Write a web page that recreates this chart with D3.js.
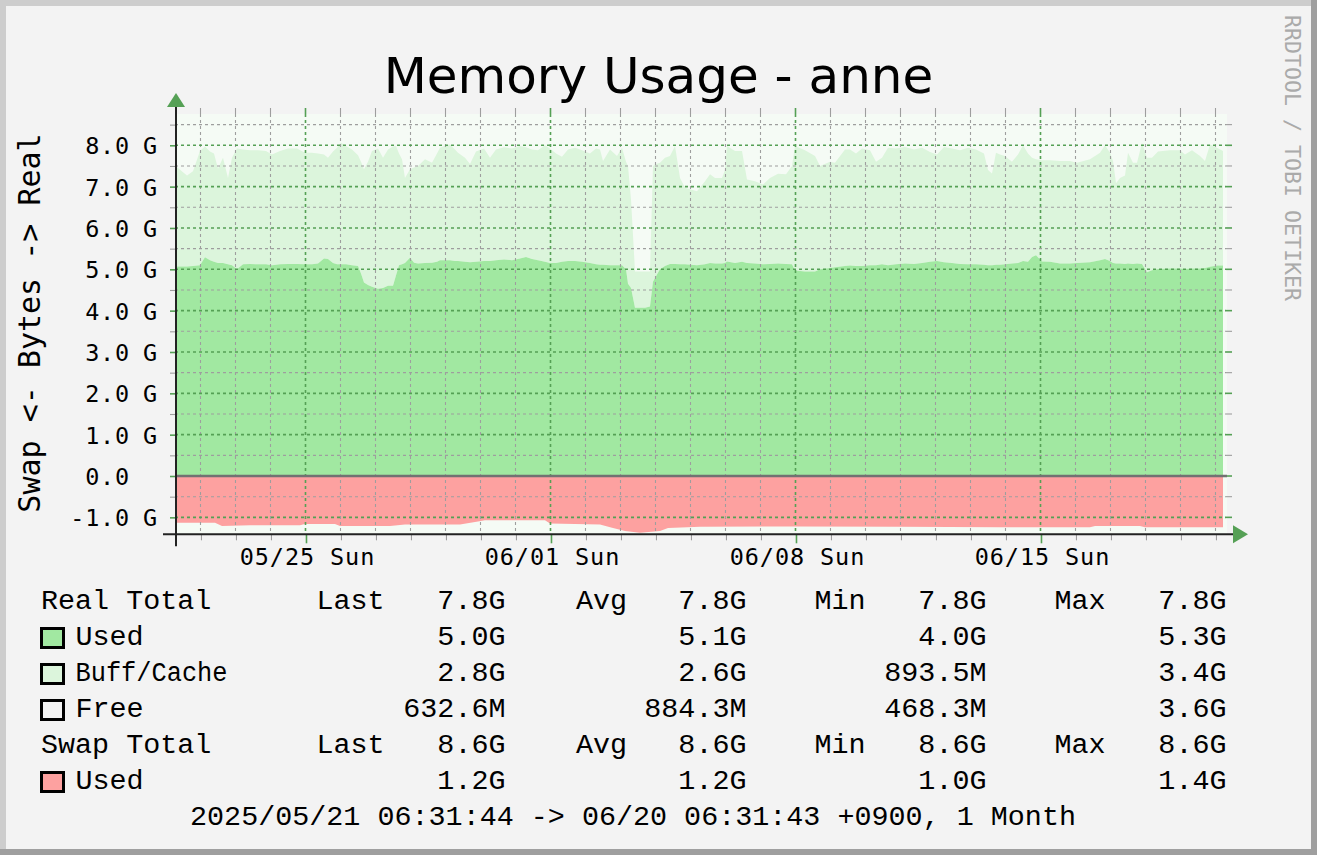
<!DOCTYPE html>
<html><head><meta charset="utf-8">
<script src="https://cdn.jsdelivr.net/npm/d3@7"></script>
<style>body{margin:0;background:#f3f3f3}svg{display:block}</style>
</head><body><svg id="c" width="1317" height="855"></svg>
<script>
// ---------------- data ----------------
const chartTitle = "Memory Usage - anne";
const yTitle = "Swap <- Bytes -> Real";
const watermark = "RRDTOOL / TOBI OETIKER";
const footer = "2025/05/21 06:31:44 -> 06/20 06:31:43 +0900, 1 Month";
// JST wall-clock times (encoded as UTC)
const startTime = Date.UTC(2025, 4, 21, 6, 31, 44);
const endTime = Date.UTC(2025, 5, 20, 6, 31, 43);

// sample instants, days since start
const sampleDays = [0.02,0.229,0.343,0.514,0.714,0.857,1.000,1.114,1.229,1.371,1.514,1.629,1.771,1.943,2.143,2.371,2.600,2.771,3.000,3.229,3.486,3.714,3.914,4.086,4.257,4.371,4.514,4.629,4.743,4.886,5.057,5.229,5.314,5.400,5.514,5.629,5.800,5.943,6.086,6.229,6.314,6.400,6.486,6.571,6.714,6.829,6.943,7.143,7.343,7.486,7.571,7.743,7.857,8.000,8.086,8.286,8.429,8.600,8.829,9.000,9.171,9.400,9.629,9.857,10.029,10.200,10.371,10.571,10.714,10.886,11.057,11.229,11.429,11.629,11.857,12.029,12.143,12.229,12.429,12.629,12.771,12.886,12.943,13.029,13.143,13.429,13.571,13.657,13.743,13.857,14.000,14.143,14.286,14.429,14.571,14.914,15.143,15.286,15.429,15.629,15.714,15.771,16.000,16.200,16.343,16.571,16.800,17.000,17.229,17.457,17.629,17.714,18.000,18.286,18.429,18.714,18.857,19.143,19.286,19.457,19.629,19.857,20.029,20.200,20.371,20.600,20.857,21.114,21.343,21.571,21.771,21.971,22.200,22.429,22.657,22.886,23.114,23.229,23.343,23.457,23.571,23.714,23.914,24.086,24.229,24.371,24.486,24.600,24.771,25.000,25.286,25.571,25.771,26.143,26.429,26.571,26.714,26.800,26.886,27.000,27.143,27.229,27.371,27.486,27.629,27.771,27.914,28.086,28.429,28.714,28.857,29.057,29.286,29.429,29.571,29.771,29.943];
// Real memory "Used", G
const usedG = [5.07,5.07,5.07,5.08,5.10,5.29,5.22,5.18,5.15,5.15,5.12,5.10,5.00,5.12,5.13,5.12,5.12,5.10,5.12,5.13,5.13,5.12,5.12,5.14,5.26,5.25,5.15,5.12,5.12,5.12,5.10,5.08,4.90,4.68,4.62,4.58,4.53,4.55,4.60,4.60,4.85,5.10,5.12,5.15,5.28,5.16,5.14,5.15,5.16,5.18,5.22,5.22,5.22,5.20,5.20,5.18,5.17,5.18,5.20,5.20,5.22,5.24,5.22,5.26,5.30,5.25,5.22,5.18,5.15,5.15,5.18,5.20,5.20,5.18,5.15,5.12,5.11,5.11,5.10,5.10,5.10,5.00,4.65,4.55,4.07,4.07,4.10,4.70,4.83,5.00,5.08,5.13,5.13,5.12,5.12,5.10,5.12,5.15,5.14,5.14,5.15,5.19,5.15,5.18,5.15,5.14,5.12,5.13,5.14,5.13,5.12,4.97,4.95,4.95,5.00,5.03,5.05,5.08,5.09,5.08,5.08,5.10,5.10,5.12,5.10,5.12,5.14,5.13,5.15,5.18,5.20,5.17,5.15,5.13,5.12,5.12,5.11,5.10,5.10,5.11,5.11,5.12,5.14,5.15,5.20,5.18,5.30,5.34,5.19,5.18,5.14,5.14,5.15,5.17,5.22,5.25,5.20,5.15,5.14,5.14,5.13,5.14,5.13,5.14,5.13,4.93,4.98,5.01,5.02,5.02,5.01,5.02,5.02,5.03,5.06,5.09,5.09];
// "Buff/Cache", G (stacked on Used)
const cacheG = [2.43,2.28,2.20,2.29,2.76,2.68,2.63,2.62,2.28,2.55,2.09,2.60,2.92,2.78,2.75,2.76,2.74,2.68,2.74,2.79,2.79,2.70,2.70,2.66,2.52,2.45,2.70,2.82,2.94,2.86,2.80,2.68,2.70,2.74,2.98,3.28,3.39,3.15,3.30,3.37,3.13,2.70,2.54,2.06,2.14,2.30,2.36,2.51,2.42,2.62,2.72,2.78,2.80,2.70,2.62,2.52,2.38,2.67,2.72,2.50,2.68,2.71,2.70,2.72,2.65,2.65,2.66,2.82,2.77,2.65,2.54,2.70,2.74,2.70,2.65,2.80,2.79,2.51,2.80,2.64,2.84,2.60,2.85,2.14,0.88,0.88,0.85,2.80,2.72,2.58,2.62,2.61,2.85,2.09,1.85,1.79,2.01,2.15,2.07,2.07,2.25,2.79,2.71,2.68,2.02,1.99,1.93,2.08,2.17,2.17,2.38,3.01,2.93,2.79,2.50,2.57,2.53,2.82,2.81,2.72,2.84,2.78,2.50,2.58,2.84,2.80,2.82,2.77,2.79,2.66,2.58,2.79,2.77,2.75,2.82,2.78,2.69,2.30,2.22,2.71,2.67,2.62,2.46,2.63,2.80,2.62,2.40,2.32,2.45,2.46,2.48,2.48,2.43,2.49,2.60,2.75,2.62,2.47,1.94,2.07,2.14,2.68,2.45,2.44,2.93,2.77,2.72,2.84,2.86,2.86,2.77,2.86,2.72,2.59,2.96,2.85,2.77];
const realTotalG = 7.8;
// Swap used, G (drawn below zero)
const swapDays = [0.02,1.143,1.343,2.143,3.571,3.714,4.571,4.714,6.143,6.571,8.143,8.657,8.857,10.571,10.714,12.143,12.486,12.857,13.286,13.857,14.086,15.000,17.857,20.714,23.571,26.143,26.286,27.571,27.714,29.943];
const swapG = [1.13,1.13,1.21,1.19,1.19,1.16,1.16,1.21,1.21,1.17,1.17,1.10,1.07,1.07,1.15,1.17,1.25,1.33,1.37,1.33,1.26,1.23,1.22,1.23,1.24,1.24,1.21,1.21,1.24,1.24];

const yMajorTicks = [-1,0,1,2,3,4,5,6,7,8];
const yMinorTicks = [-0.5,0.5,1.5,2.5,3.5,4.5,5.5,6.5,7.5,8.5];
const yTickLabels = ["-1.0","0.0","1.0","2.0","3.0","4.0","5.0","6.0","7.0","8.0"];
const yTickUnits = ["G","","G","G","G","G","G","G","G","G"];

const legendLabels = ["Real Total","Used","Buff/Cache","Free","Swap Total","Used"];
const legendLast = ["7.8G","5.0G","2.8G","632.6M","8.6G","1.2G"];
const legendAvg  = ["7.8G","5.1G","2.6G","884.3M","8.6G","1.2G"];
const legendMin  = ["7.8G","4.0G","893.5M","468.3M","8.6G","1.0G"];
const legendMax  = ["7.8G","5.3G","3.4G","3.6G","8.6G","1.4G"];
const legendHeads = ["Last","Avg","Min","Max"];

// ---------------- style ----------------
const C = {
  page:"#f3f3f3", canvas:"#f5fbf5", used:"#a1e8a1", cache:"#dcf5dc", free:"#f5fbf5",
  swap:"#fda1a0", mgrid:"#55a055", grid:"#9e9e9e", axis:"#222", zero:"#727272"
};
const MONO = "'DejaVu Sans Mono', monospace";
const LEG = "'Liberation Mono', 'DejaVu Sans Mono', monospace";
const TICKFS = 23.5;

const svg = d3.select("#c");
svg.append("rect").attr("width",1317).attr("height",855).attr("fill",C.page);
// 3D frame
svg.append("rect").attr("x",0).attr("y",0).attr("width",1317).attr("height",6).attr("fill","#cdcdcd");
svg.append("rect").attr("x",0).attr("y",0).attr("width",6).attr("height",855).attr("fill","#cdcdcd");
svg.append("rect").attr("x",1311).attr("y",0).attr("width",6).attr("height",855).attr("fill","#9f9f9f");
svg.append("rect").attr("x",0).attr("y",849).attr("width",1317).attr("height",6).attr("fill","#9f9f9f");

const x = d3.scaleUtc().domain([new Date(startTime), new Date(endTime)]).range([175, 1225]);
const y = d3.scaleLinear().domain([-1.41, 8.757]).range([534.3, 114]);
const dayMs = 86400000;
const toDate = d => new Date(startTime + d * dayMs);

const plotL = x.range()[0], plotR = x.range()[1], plotT = y.range()[1], plotB = y.range()[0];

svg.append("rect").attr("x",plotL+1).attr("y",plotT).attr("width",plotR-plotL+1).attr("height",plotB-plotT).attr("fill",C.canvas);

const records = sampleDays.map((d,i)=>({t:toDate(d), used:usedG[i], cache:cacheG[i]}));
const stack = d3.stack().keys(["used","cache"])(records);

// free: spans up to the real total
svg.append("path").datum(records)
  .attr("fill",C.free)
  .attr("d", d3.area().x(d=>x(d.t)).y0(y(0)).y1(y(realTotalG)));
const fills = [C.used, C.cache];
stack.slice().reverse().forEach(s=>{
  const k = s.key === "used" ? 0 : 1;
  svg.append("path").datum(s).attr("fill",fills[k])
    .attr("d", d3.area().x(d=>x(d.data.t)).y0(d=>y(d[0])).y1(d=>y(d[1])));
});
const swapRec = swapDays.map((d,i)=>({t:toDate(d), v:swapG[i]}));
svg.append("path").datum(swapRec).attr("fill",C.swap)
  .attr("d", d3.area().x(d=>x(d.t)).y0(y(0)).y1(d=>y(-d.v)));

// ---------------- grid ----------------
const days = d3.utcDay.range(x.domain()[0], x.domain()[1]);
const g = svg.append("g");
days.forEach(dt=>{
  const major = dt.getUTCDay() === 0;
  const xx = Math.round(x(dt)) + 0.5;
  g.append("line").attr("x1",xx).attr("x2",xx).attr("y1",plotT).attr("y2",plotB)
    .attr("stroke", major?C.mgrid:C.grid).attr("stroke-width", major?1.6:1.1)
    .attr("stroke-dasharray","3,3");
  g.append("line").attr("x1",xx).attr("x2",xx).attr("y1",plotT-6).attr("y2",plotT)
    .attr("stroke", major?C.mgrid:C.grid).attr("stroke-width", major?1.6:1.1);
});
[...yMinorTicks.map(v=>[v,false]), ...yMajorTicks.map(v=>[v,true])].forEach(([v,major])=>{
  const yy = y(v);
  g.append("line").attr("x1",plotL).attr("x2",plotR+1).attr("y1",yy).attr("y2",yy)
    .attr("stroke", major?C.mgrid:C.grid).attr("stroke-width", major?1.6:1.1)
    .attr("stroke-dasharray","3,3");
  g.append("line").attr("x1",plotR+1).attr("x2",plotR+7).attr("y1",yy).attr("y2",yy)
    .attr("stroke", major?C.mgrid:C.grid).attr("stroke-width", major?1.6:1.1);
});

// zero line
svg.append("line").attr("x1",plotL).attr("x2",plotR+2).attr("y1",y(0)).attr("y2",y(0))
  .attr("stroke",C.zero).attr("stroke-width",2.6);

// ---------------- axes ----------------
const yMinorAxis = d3.axisLeft(y).tickValues(yMinorTicks).tickSize(6).tickFormat("");
const ym = svg.append("g").attr("transform",`translate(${plotL+1},0)`).call(yMinorAxis);
ym.select(".domain").remove();
ym.selectAll("line").attr("stroke",C.grid).attr("stroke-width",1.1);

const yAxis = d3.axisLeft(y).tickValues(yMajorTicks).tickSize(6).tickPadding(40)
  .tickFormat((v,i)=>yTickLabels[i]);
const ya = svg.append("g").attr("transform",`translate(${plotL+1},0)`).call(yAxis);
ya.select(".domain").remove();
ya.selectAll("line").attr("stroke",C.mgrid).attr("stroke-width",1.6);
ya.selectAll("text").attr("font-family",MONO).attr("font-size",TICKFS).attr("fill","#000")
  .attr("letter-spacing",0.8).attr("dy","0.36em");
ya.selectAll(".tick").append("text").text((v,i)=>yTickUnits[i])
  .attr("x",-33).attr("dy","0.36em").attr("text-anchor","start")
  .attr("font-family",MONO).attr("font-size",TICKFS).attr("fill","#000");

const sundays = days.filter(d=>d.getUTCDay()===0);
const xMinorAxis = d3.axisBottom(x).tickValues(days.filter(d=>d.getUTCDay()!==0)).tickSize(6).tickFormat("");
const xm = svg.append("g").attr("transform",`translate(0.5,${plotB})`).call(xMinorAxis);
xm.select(".domain").remove();
xm.selectAll("line").attr("stroke",C.grid).attr("stroke-width",1.1);
const xAxis = d3.axisBottom(x).tickValues(sundays).tickSize(9).tickPadding(5)
  .tickFormat(d3.utcFormat("%m/%d %a"));
const xa = svg.append("g").attr("transform",`translate(0.5,${plotB})`).call(xAxis);
xa.select(".domain").remove();
xa.selectAll("line").attr("stroke",C.mgrid).attr("stroke-width",1.6);
xa.selectAll("text").attr("font-family",MONO).attr("font-size",TICKFS).attr("fill","#000")
  .attr("letter-spacing",0.9).attr("dx",1);

// axis lines
svg.append("line").attr("x1",plotL+1).attr("x2",plotL+1).attr("y1",plotT-7).attr("y2",plotB+12)
  .attr("stroke",C.axis).attr("stroke-width",2);
svg.append("line").attr("x1",plotL-12).attr("x2",plotR+9).attr("y1",plotB).attr("y2",plotB)
  .attr("stroke",C.axis).attr("stroke-width",2);
// arrows
svg.append("path").attr("fill",C.mgrid)
  .attr("d",`M${plotL+1-9},${plotT-7}L${plotL+1+9},${plotT-7}L${plotL+1},${plotT-21}Z`);
svg.append("path").attr("fill",C.mgrid)
  .attr("d",`M${plotR+8},${plotB-9}L${plotR+8},${plotB+9}L${plotR+23},${plotB}Z`);

// ---------------- texts ----------------
svg.append("text").text(chartTitle).attr("x",658.5).attr("y",93).attr("text-anchor","middle")
  .attr("font-family","'DejaVu Sans', sans-serif").attr("font-size",50).attr("fill","#000");
svg.append("text").text(yTitle).attr("transform","translate(40,323) rotate(-90)")
  .attr("text-anchor","middle").attr("font-family",MONO).attr("font-size",30).attr("fill","#000");
svg.append("text").text(watermark).attr("transform","translate(1285,15) rotate(90)")
  .attr("text-anchor","start").attr("font-family",MONO).attr("font-size",21.6).attr("fill","#aaaaaa");

// ---------------- legend ----------------
const swatches = [null, C.used, C.cache, C.page, null, C.swap];
const statCols = [legendLast, legendAvg, legendMin, legendMax];
const colEnd = [505.5, 746.5, 986.5, 1226.5];
const headX = [316.5, 576, 814.5, 1054.5];
const lg = svg.append("g").attr("font-family",LEG).attr("font-size",28.4).attr("fill","#000");
legendLabels.forEach((lab,i)=>{
  const by = 609 + i*36;
  if (swatches[i]) {
    lg.append("rect").attr("x",41.5).attr("y",by-16.5).attr("width",22).attr("height",19)
      .attr("fill",swatches[i]).attr("stroke","#000").attr("stroke-width",3);
    const t = lg.append("text").text(lab).attr("x",75.5).attr("y",by);
    if (lab.length > 6) t.attr("textLength",152).attr("lengthAdjust","spacingAndGlyphs");
  } else {
    lg.append("text").text(lab).attr("x",41).attr("y",by);
    legendHeads.forEach((h,j)=>lg.append("text").text(h).attr("x",headX[j]).attr("y",by));
  }
  statCols.forEach((col,j)=>lg.append("text").text(col[i]).attr("x",colEnd[j]).attr("y",by).attr("text-anchor","end"));
});
lg.append("text").text(footer).attr("x",633).attr("y",825).attr("text-anchor","middle");
</script></body></html>
